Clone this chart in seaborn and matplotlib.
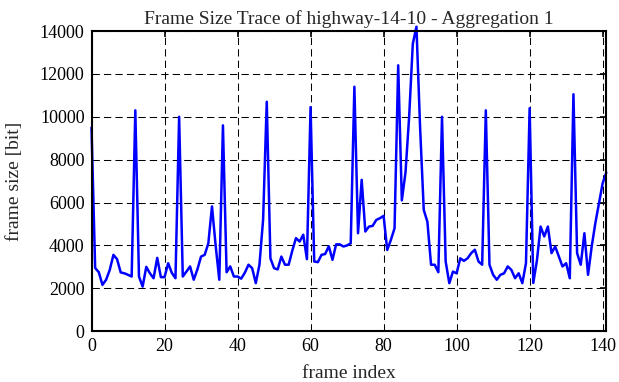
import matplotlib
matplotlib.use("Agg")
import matplotlib.pyplot as plt
import seaborn as sns
import pandas as pd

frame_size = [
    9500, 2950, 2750, 2160, 2400, 2860, 3560, 3360, 2740, 2700,
    2630, 2550, 10300, 2550, 2080, 3000, 2700, 2470, 3420, 2520,
    2520, 3170, 2720, 2470, 10000, 2550, 2780, 3020, 2400, 2880,
    3480, 3560, 4100, 5820, 4000, 2400, 9600, 2750, 3020, 2550,
    2550, 2450, 2730, 3100, 2940, 2240, 3100, 5200, 10700, 3400,
    2940, 2880, 3480, 3100, 3100, 3760, 4340, 4180, 4500, 3360,
    10450, 3250, 3220, 3560, 3600, 3960, 3330, 4050, 4050, 3950,
    4000, 4100, 11400, 4570, 7060, 4650, 4880, 4910, 5190, 5270,
    5380, 3790, 4260, 4800, 12400, 6100, 7400, 10000, 13400, 14200,
    9500, 5660, 5100, 3100, 3100, 2750, 10000, 3250, 2240, 2780,
    2700, 3400, 3280, 3400, 3640, 3800, 3250, 3100, 10300, 3100,
    2630, 2400, 2630, 2700, 3020, 2860, 2470, 2700, 2240, 3170,
    10400, 2250, 3300, 4880, 4420, 4880, 3640, 3950, 3480, 3020,
    3170, 2470, 11050, 3640, 3100, 4570, 2630, 3950, 5040, 5970,
    6900, 7400,
]
frame_index = list(range(len(frame_size)))
x_ticks = [0, 20, 40, 60, 80, 100, 120, 140]
y_ticks = [0, 2000, 4000, 6000, 8000, 10000, 12000, 14000]

title = "Frame Size Trace of highway-14-10 - Aggregation 1"

sns.set_style("white")
plt.rcParams["font.family"] = ["Liberation Serif", "DejaVu Serif"]

df = pd.DataFrame({"frame index": frame_index, "frame size": frame_size})

fig = plt.figure(figsize=(6.19, 3.82), dpi=100)
ax = fig.add_axes([91.5 / 619, (382 - 331.2) / 382, (606.3 - 91.5) / 619, 300.2 / 382])

sns.lineplot(data=df, x="frame index", y="frame size", ax=ax,
             color="#0000ff", linewidth=1.8, clip_on=False, zorder=3)

ax.set_xlim(0, 141)
ax.set_ylim(0, 14000)
ax.set_xticks(x_ticks)
ax.set_yticks(y_ticks)
ax.set_xticklabels([str(v) for v in x_ticks])
ax.set_yticklabels([str(v) for v in y_ticks])

ax.grid(True, color="black", linewidth=0.75, linestyle=(0, (7, 4)))
ax.set_axisbelow(True)
for s in ax.spines.values():
    s.set_visible(True)
    s.set_linewidth(1.5)
    s.set_color("black")
    s.set_zorder(4)

ax.tick_params(direction="in", length=4, width=1.2, top=True, right=True,
               labelsize=13, colors="black", pad=5)

ax.set_xlabel("frame index", fontsize=14, labelpad=7)
ax.set_ylabel("frame size [bit]", fontsize=14, labelpad=12)
ax.set_title(title, fontsize=14, pad=5)

fig.savefig("out.png", dpi=100)
